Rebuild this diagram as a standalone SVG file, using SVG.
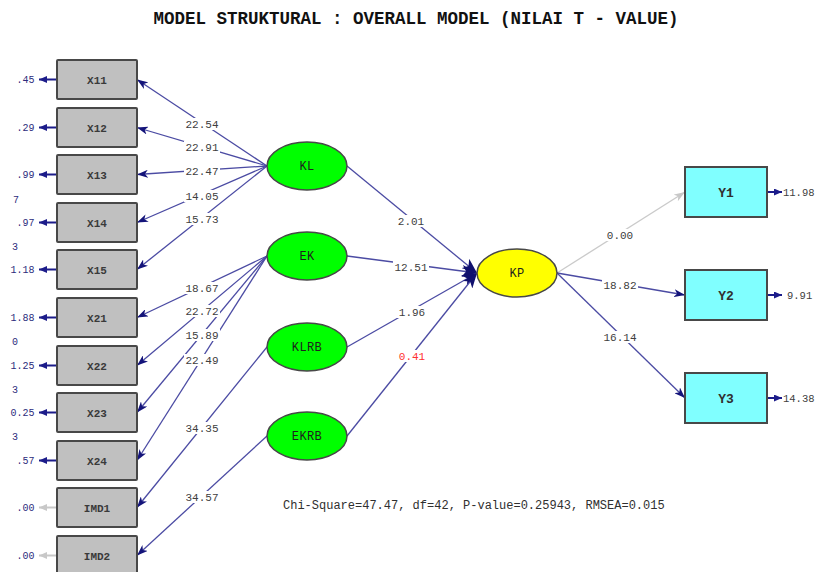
<svg xmlns="http://www.w3.org/2000/svg" width="819" height="572" viewBox="0 0 819 572">
<style>
  .obs{fill:#c0c0c0;stroke:#484848;stroke-width:2}
  .ind{fill:#80ffff;stroke:#484848;stroke-width:2}
  .lat{fill:#00ff00;stroke:#484848;stroke-width:1.5}
  .end{fill:#ffff00;stroke:#484848;stroke-width:1.5}
  .nl{font-family:"Liberation Mono","DejaVu Sans Mono",monospace;font-size:11px;font-weight:bold;fill:#3a3a3a;text-anchor:middle}
  .ll{font-family:"Liberation Mono","DejaVu Sans Mono",monospace;font-size:12px;fill:#1e1e1e;text-anchor:middle;letter-spacing:0.4px}
  .yl{font-family:"Liberation Mono","DejaVu Sans Mono",monospace;font-size:13px;font-weight:bold;fill:#303030;text-anchor:middle}
  .ln{fill:none;stroke:#4b4ba3;stroke-width:1.3}
  .gr{fill:none;stroke:#cacaca;stroke-width:1.3}
  .bg{fill:#fff}
  .val{font-family:"Liberation Mono","DejaVu Sans Mono",monospace;font-size:11px;fill:#404040;text-anchor:middle}
  .red{fill:#ff3030}
  .eL{fill:none;stroke:#1c1c8a;stroke-width:2}
  .eG{fill:none;stroke:#c8c8c8;stroke-width:2}
  .en{font-family:"Liberation Mono","DejaVu Sans Mono",monospace;font-size:10px;fill:#2c2c7c;text-anchor:end}
  .er{font-family:"Liberation Mono","DejaVu Sans Mono",monospace;font-size:10.5px;fill:#404040}
  .title{font-family:"Liberation Mono","DejaVu Sans Mono",monospace;font-size:17.5px;font-weight:bold;fill:#111;text-anchor:middle}
  .fit{font-family:"Liberation Mono","DejaVu Sans Mono",monospace;font-size:12px;fill:#303030}
</style>
<defs>
  <marker id="ah" markerUnits="userSpaceOnUse" markerWidth="12" markerHeight="8" refX="11" refY="4" orient="auto">
    <path d="M0,0 L11,4 L0,8 L3,4 z" fill="#14147a"/>
  </marker>
  <marker id="ahBig" markerUnits="userSpaceOnUse" markerWidth="16" markerHeight="12" refX="15" refY="6" orient="auto">
    <path d="M0,0 L15,6 L0,12 L4,6 z" fill="#10106e"/>
  </marker>
  <marker id="ahGray" markerUnits="userSpaceOnUse" markerWidth="12" markerHeight="8" refX="11" refY="4" orient="auto">
    <path d="M0,0 L11,4 L0,8 L3,4 z" fill="#c8c8c8"/>
  </marker>
  <marker id="eh" markerUnits="userSpaceOnUse" markerWidth="9" markerHeight="7" refX="8" refY="3.5" orient="auto">
    <path d="M0,0 L8,3.5 L0,7 z" fill="#1c1c8a"/>
  </marker>
  <marker id="ehGray" markerUnits="userSpaceOnUse" markerWidth="9" markerHeight="7" refX="8" refY="3.5" orient="auto">
    <path d="M0,0 L8,3.5 L0,7 z" fill="#c8c8c8"/>
  </marker>
</defs>

<rect width="819" height="572" fill="#fff"/>

<text class="title" x="416" y="24">MODEL STRUKTURAL : OVERALL MODEL (NILAI T - VALUE)</text>

<!-- connectors: loadings, structural paths, error terms -->
<g id="connectors">
  <path class="ln" d="M267,166 L137,79.5" marker-end="url(#ah)"/>
  <path class="ln" d="M267,166 L137,127.5" marker-end="url(#ah)"/>
  <path class="ln" d="M267,166 L137,174.5" marker-end="url(#ah)"/>
  <path class="ln" d="M267,166 L137,222.5" marker-end="url(#ah)"/>
  <path class="ln" d="M267,166 L137,269.5" marker-end="url(#ah)"/>
  <path class="ln" d="M267,256 L137,317.5" marker-end="url(#ah)"/>
  <path class="ln" d="M267,256 L137,365.5" marker-end="url(#ah)"/>
  <path class="ln" d="M267,256 L137,412.5" marker-end="url(#ah)"/>
  <path class="ln" d="M267,256 L137,460.5" marker-end="url(#ah)"/>
  <path class="ln" d="M267,347 L137,507.5" marker-end="url(#ah)"/>
  <path class="ln" d="M267,436 L137,555.5" marker-end="url(#ah)"/>

  <path class="ln" d="M347,166 L477,273" marker-end="url(#ahBig)"/>
  <path class="ln" d="M347,256 L477,273" marker-end="url(#ahBig)"/>
  <path class="ln" d="M347,347 L477,273" marker-end="url(#ahBig)"/>
  <path class="ln" d="M347,436 L477,273" marker-end="url(#ahBig)"/>

  <path class="gr" d="M557,273 L685,192" marker-end="url(#ahGray)"/>
  <path class="ln" d="M557,273 L685,295" marker-end="url(#ah)"/>
  <path class="ln" d="M557,273 L685,398" marker-end="url(#ah)"/>

  <!-- error terms -->
  <path class="eL" d="M57,79.5 H39" marker-end="url(#eh)"/>
  <path class="eL" d="M57,127.5 H39" marker-end="url(#eh)"/>
  <path class="eL" d="M57,174.5 H39" marker-end="url(#eh)"/>
  <path class="eL" d="M57,222.5 H39" marker-end="url(#eh)"/>
  <path class="eL" d="M57,269.5 H39" marker-end="url(#eh)"/>
  <path class="eL" d="M57,317.5 H39" marker-end="url(#eh)"/>
  <path class="eL" d="M57,365.5 H39" marker-end="url(#eh)"/>
  <path class="eL" d="M57,412.5 H39" marker-end="url(#eh)"/>
  <path class="eL" d="M57,460.5 H39" marker-end="url(#eh)"/>
  <path class="eG" d="M57,507.5 H39" marker-end="url(#ehGray)"/>
  <path class="eG" d="M57,555.5 H39" marker-end="url(#ehGray)"/>
  <path class="eL" d="M767,192 H782" marker-end="url(#eh)"/>
  <path class="eL" d="M767,295 H782" marker-end="url(#eh)"/>
  <path class="eL" d="M767,398 H782" marker-end="url(#eh)"/>

  <!-- label backgrounds break the lines under the t-values -->
  <rect class="bg" x="184" y="118" width="36" height="12"/>
  <rect class="bg" x="184" y="141" width="36" height="12"/>
  <rect class="bg" x="184" y="165" width="36" height="12"/>
  <rect class="bg" x="184" y="190" width="36" height="12"/>
  <rect class="bg" x="184" y="213" width="36" height="12"/>
  <rect class="bg" x="184" y="282" width="36" height="12"/>
  <rect class="bg" x="184" y="305" width="36" height="12"/>
  <rect class="bg" x="184" y="329" width="36" height="12"/>
  <rect class="bg" x="184" y="354" width="36" height="12"/>
  <rect class="bg" x="184" y="422" width="36" height="12"/>
  <rect class="bg" x="184" y="491" width="36" height="12"/>
  <rect class="bg" x="396" y="215" width="30" height="12"/>
  <rect class="bg" x="393" y="261" width="36" height="12"/>
  <rect class="bg" x="397" y="306" width="30" height="12"/>
  <rect class="bg" x="397" y="350" width="30" height="12"/>
  <rect class="bg" x="605" y="229" width="30" height="12"/>
  <rect class="bg" x="602" y="279" width="36" height="12"/>
  <rect class="bg" x="602" y="331" width="36" height="12"/>

  <!-- t-values -->
  <text class="val" x="202" y="128">22.54</text>
  <text class="val" x="202" y="151">22.91</text>
  <text class="val" x="202" y="175">22.47</text>
  <text class="val" x="202" y="200">14.05</text>
  <text class="val" x="202" y="223">15.73</text>
  <text class="val" x="202" y="292">18.67</text>
  <text class="val" x="202" y="315">22.72</text>
  <text class="val" x="202" y="339">15.89</text>
  <text class="val" x="202" y="364">22.49</text>
  <text class="val" x="202" y="432">34.35</text>
  <text class="val" x="202" y="501">34.57</text>
  <text class="val" x="411" y="225">2.01</text>
  <text class="val" x="411" y="271">12.51</text>
  <text class="val" x="412" y="316">1.96</text>
  <text class="val red" x="412" y="360">0.41</text>
  <text class="val" x="620" y="239">0.00</text>
  <text class="val" x="620" y="289">18.82</text>
  <text class="val" x="620" y="341">16.14</text>

  <!-- error variances -->
  <text class="en" x="34.5" y="83">.45</text>
  <text class="en" x="34.5" y="131">.29</text>
  <text class="en" x="34.5" y="178">.99</text>
  <text class="en" x="34.5" y="226">.97</text>
  <text class="en" x="34.5" y="273">1.18</text>
  <text class="en" x="34.5" y="321">1.88</text>
  <text class="en" x="34.5" y="369">1.25</text>
  <text class="en" x="34.5" y="416">0.25</text>
  <text class="en" x="34.5" y="464">.57</text>
  <text class="en" x="34.5" y="511">.00</text>
  <text class="en" x="34.5" y="559">.00</text>
  <text class="en" x="19" y="203">7</text>
  <text class="en" x="18" y="250">3</text>
  <text class="en" x="18" y="345">0</text>
  <text class="en" x="18" y="393">3</text>
  <text class="en" x="18" y="440">3</text>
  <text class="er" x="783" y="196">11.98</text>
  <text class="er" x="787" y="299">9.91</text>
  <text class="er" x="783" y="402">14.38</text>
</g>

<!-- observed indicators -->
<g id="X11"><rect class="obs" x="57" y="60" width="80" height="39" rx="1"/><text class="nl" x="97" y="83.5">X11</text></g>
<g id="X12"><rect class="obs" x="57" y="108" width="80" height="39" rx="1"/><text class="nl" x="97" y="131.5">X12</text></g>
<g id="X13"><rect class="obs" x="57" y="155" width="80" height="39" rx="1"/><text class="nl" x="97" y="178.5">X13</text></g>
<g id="X14"><rect class="obs" x="57" y="203" width="80" height="39" rx="1"/><text class="nl" x="97" y="226.5">X14</text></g>
<g id="X15"><rect class="obs" x="57" y="250" width="80" height="39" rx="1"/><text class="nl" x="97" y="273.5">X15</text></g>
<g id="X21"><rect class="obs" x="57" y="298" width="80" height="39" rx="1"/><text class="nl" x="97" y="321.5">X21</text></g>
<g id="X22"><rect class="obs" x="57" y="346" width="80" height="39" rx="1"/><text class="nl" x="97" y="369.5">X22</text></g>
<g id="X23"><rect class="obs" x="57" y="393" width="80" height="39" rx="1"/><text class="nl" x="97" y="416.5">X23</text></g>
<g id="X24"><rect class="obs" x="57" y="441" width="80" height="39" rx="1"/><text class="nl" x="97" y="464.5">X24</text></g>
<g id="IMD1"><rect class="obs" x="57" y="488" width="80" height="39" rx="1"/><text class="nl" x="97" y="511.5">IMD1</text></g>
<g id="IMD2"><rect class="obs" x="57" y="536" width="80" height="39" rx="1"/><text class="nl" x="97" y="559.5">IMD2</text></g>

<!-- latent variables -->
<g id="KL"><ellipse class="lat" cx="307" cy="166" rx="40" ry="24"/><text class="ll" x="307" y="170">KL</text></g>
<g id="EK"><ellipse class="lat" cx="307" cy="256" rx="40" ry="24"/><text class="ll" x="307" y="260">EK</text></g>
<g id="KLRB"><ellipse class="lat" cx="307" cy="347" rx="40" ry="24"/><text class="ll" x="307" y="351">KLRB</text></g>
<g id="EKRB"><ellipse class="lat" cx="307" cy="436" rx="40" ry="24"/><text class="ll" x="307" y="440">EKRB</text></g>
<g id="KP"><ellipse class="end" cx="517" cy="273" rx="40" ry="24"/><text class="ll" x="517" y="277">KP</text></g>

<!-- endogenous indicators -->
<g id="Y1"><rect class="ind" x="685" y="167" width="82" height="50"/><text class="yl" x="726" y="196.5">Y1</text></g>
<g id="Y2"><rect class="ind" x="685" y="270" width="82" height="50"/><text class="yl" x="726" y="299.5">Y2</text></g>
<g id="Y3"><rect class="ind" x="685" y="373" width="82" height="50"/><text class="yl" x="726" y="402.5">Y3</text></g>

<text class="fit" x="283" y="509">Chi-Square=47.47, df=42, P-value=0.25943, RMSEA=0.015</text>
</svg>
